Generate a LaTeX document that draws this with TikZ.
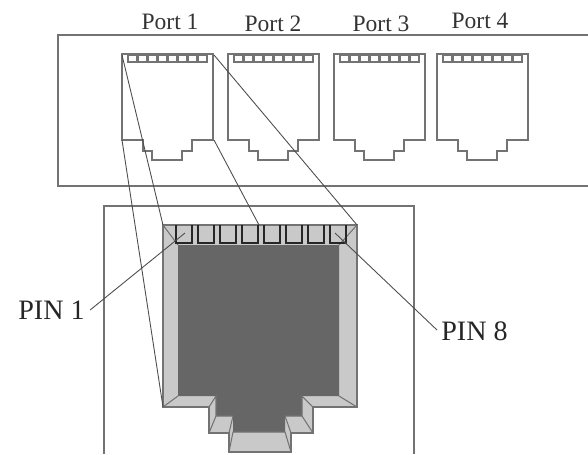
\documentclass[tikz,border=0pt]{standalone}
\usepackage{fontspec}
\setmainfont{Liberation Serif}
\definecolor{traco}{gray}{0.45}
\definecolor{claro}{gray}{0.79}
\definecolor{escuro}{gray}{0.40}
\tikzset{
	traco fino/.style={draw=traco, line width=0.6pt},
	guia/.style={draw=black!70, line width=0.5pt},
	pino/.style={draw=black!85, line width=0.8pt},
	rotulo porta/.style={font=\fontsize{13.4}{15}\selectfont, text=black!80, inner sep=0pt},
	rotulo pino/.style={font=\fontsize{16}{18}\selectfont, text=black!85, inner sep=0pt}
}
\begin{document}
\begin{tikzpicture}[x=0.02cm,y=-0.02cm]
	\useasboundingbox (0,0) rectangle (588,454);

	% Painel superior
	\draw[traco fino] (588,35) -- (58,35) -- (58,186) -- (588,186);

	% Painel inferior, aberto embaixo
	\draw[traco fino] (104,454) -- (104,206) -- (414,206) -- (414,454);

	% Quatro portas e seus pinos pequenos
	\foreach \px/\nome/\lx/\ly in {122/1/170/22, 228/2/273/24, 334/3/381/24, 437/4/480/21} {
		\node[rotulo porta] (port\nome) at (\lx,\ly) {Port \nome};
		\draw[traco fino] (\px,54) -- (\px+91,54) -- (\px+91,140) -- (\px+70,140) -- (\px+70,151)
			-- (\px+60,151) -- (\px+60,160) -- (\px+30,160) -- (\px+30,151) -- (\px+21,151)
			-- (\px+21,140) -- (\px,140) -- cycle;
		\foreach \i in {0,...,7}
			\draw[traco fino] (\px+6+\i*10,55) rectangle (\px+15+\i*10,62);
	}

	% Corpo ampliado do conector
	\draw[traco fino, fill=claro] (163,225) -- (357,225) -- (357,407) -- (313,407) -- (313,433)
		-- (291,433) -- (291,452) -- (229,452) -- (229,433) -- (209,433) -- (209,407)
		-- (163,407) -- cycle;

	% Parte escura
	\fill[escuro] (178,245) -- (339,245) -- (339,396) -- (302,396) -- (302,416) -- (285,416)
		-- (285,432) -- (233,432) -- (233,416) -- (216,416) -- (216,396) -- (178,396) -- cycle;

	% Arestas chanfradas
	\draw[traco fino] (163,225) -- (178,245);
	\draw[traco fino] (357,225) -- (339,245);
	\draw[traco fino] (163,407) -- (178,396);
	\draw[traco fino] (357,407) -- (339,396);
	\draw[traco fino] (209,407) -- (216,396) -- (216,416) -- (233,416);
	\draw[traco fino] (313,407) -- (302,396) -- (302,416) -- (285,416);
	\draw[traco fino] (209,433) -- (216,416);
	\draw[traco fino] (313,433) -- (302,416);
	\draw[traco fino] (233,416) -- (229,433);
	\draw[traco fino] (285,416) -- (291,433);
	\draw[traco fino] (229,452) -- (233,432) -- (285,432) -- (291,452);

	% Pinos grandes
	\foreach \i in {0,...,7}
		\draw[pino] (176+\i*22,225) -- (176+\i*22,243) -- (192+\i*22,243) -- (192+\i*22,225);

	% Cantos usados pelas linhas de projecao
	\coordinate (portaNO) at (122,55);
	\coordinate (portaSO) at (122,140);
	\coordinate (portaNE) at (214,55);
	\coordinate (portaSE) at (214,140);
	\coordinate (grandeNO) at (163,225);
	\coordinate (grandeSO) at (163,407);
	\coordinate (grandeNE) at (357,225);
	\coordinate (grandeMeio) at (259,225);
	\coordinate (pinoA) at (185,233);
	\coordinate (pinoB) at (335,233);

	% Linhas de projecao
	\draw[guia] (portaNO) -- (grandeNO);
	\draw[guia] (portaSO) -- (grandeSO);
	\draw[guia] (portaNE) -- (grandeNE);
	\draw[guia] (portaSE) -- (grandeMeio);

	% Rotulos dos pinos
	\node[rotulo pino, anchor=west] (pin1) at (18,310) {PIN 1};
	\node[rotulo pino, anchor=west] (pin8) at (441,331) {PIN 8};
	\draw[guia] (pin1.east) ++(5,0) coordinate (pin1fim) -- (pinoA);
	\draw[guia] (pin8.west) ++(-4,-1) coordinate (pin8fim) -- (pinoB);
\end{tikzpicture}
\end{document}
